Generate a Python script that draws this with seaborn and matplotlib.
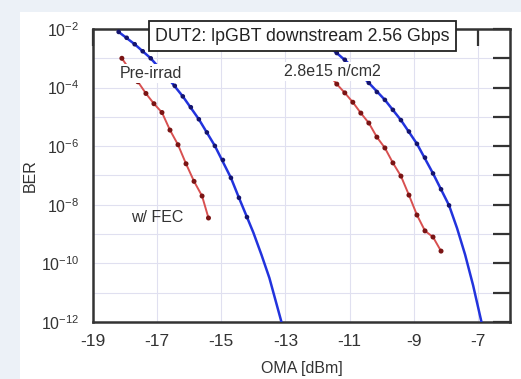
import numpy as np
import pandas as pd
import matplotlib
matplotlib.use("Agg")
import matplotlib.pyplot as plt
import seaborn as sns
from matplotlib.patches import Rectangle

# ---------------- data ----------------
# pre-irradiation, with FEC (red)
pre_fec_oma = [-18.1, -17.85, -17.6, -17.35, -17.1, -16.85, -16.6, -16.35,
               -16.1, -15.85, -15.6, -15.4]
pre_fec_log_ber = [-3.0, -3.4, -3.8, -4.2, -4.55, -4.85, -5.45, -5.95,
                   -6.6, -7.2, -7.7, -8.45]

# pre-irradiation, no FEC (blue dots)
pre_oma = [-18.2, -17.95, -17.7, -17.45, -17.2, -16.95, -16.7, -16.45, -16.2,
           -15.95, -15.7, -15.45, -15.2, -14.95, -14.7, -14.45, -14.2]
pre_log_ber = [-2.1, -2.3, -2.52, -2.76, -3.0, -3.3, -3.62, -3.94, -4.3,
               -4.67, -5.08, -5.53, -5.99, -6.47, -7.08, -7.76, -8.42]
# pre-irradiation fit (blue line)
pre_fit_oma = [-18.2, -17.7, -17.2, -16.7, -16.2, -15.7, -15.2, -14.7, -14.45,
               -14.2, -14.0, -13.75, -13.5, -13.25, -13.05]
pre_fit_log_ber = [-2.1, -2.52, -3.0, -3.62, -4.3, -5.08, -5.99, -7.08, -7.76,
                   -8.42, -8.95, -9.7, -10.5, -11.5, -12.3]

# after 2.8e15 n/cm2, with FEC (red)
irr_fec_oma = [-11.65, -11.4, -11.15, -10.9, -10.65, -10.4, -10.15, -9.9,
               -9.65, -9.4, -9.15, -8.9, -8.65, -8.4, -8.15]
irr_fec_log_ber = [-3.55, -3.88, -4.18, -4.5, -4.87, -5.21, -5.69, -6.06,
                   -6.57, -7.02, -7.67, -8.35, -8.89, -9.1, -9.58]

# after 2.8e15 n/cm2, no FEC (blue dots)
irr_oma = [-11.4, -11.15, -10.9, -10.65, -10.4, -10.15, -9.9, -9.65, -9.4,
           -9.15, -8.9, -8.65, -8.4, -8.15, -7.9]
irr_log_ber = [-2.82, -3.05, -3.3, -3.56, -3.84, -4.15, -4.42, -4.76, -5.11,
               -5.5, -5.92, -6.39, -6.93, -7.47, -8.02]
# irradiated fit (blue line)
irr_fit_oma = [-11.9, -11.4, -10.9, -10.4, -9.9, -9.4, -8.9, -8.4, -7.9,
               -7.65, -7.4, -7.15, -6.9, -6.8]
irr_fit_log_ber = [-2.4, -2.82, -3.3, -3.84, -4.42, -5.11, -5.92, -6.93,
                   -8.02, -8.8, -9.7, -10.75, -11.95, -12.4]

x_ticks = [-19, -17, -15, -13, -11, -9, -7]
y_exponents = [-2, -3, -4, -5, -6, -7, -8, -9, -10, -11, -12]
y_labeled = [-2, -4, -6, -8, -10, -12]

title_text = "DUT2: lpGBT downstream 2.56 Gbps"
label_pre = "Pre-irrad"
label_irr = "2.8e15 n/cm2"
label_fec = "w/ FEC"

# ---------------- style ----------------
sns.set_theme(style="white")
plt.rcParams["font.family"] = ["Liberation Sans", "DejaVu Sans"]
plt.rcParams["mathtext.fontset"] = "custom"
plt.rcParams["mathtext.rm"] = "Liberation Sans"
plt.rcParams["mathtext.it"] = "Liberation Sans"
plt.rcParams["axes.unicode_minus"] = False

BLUE_LINE = "#2233dd"
BLUE_DOT = "#14146e"
RED_LINE = "#d85050"
RED_DOT = "#7a1414"
SPINE = "#333333"
TEXT = "#333333"

fig = plt.figure(figsize=(5.21, 3.79), dpi=100, facecolor="#ecf1f7")
fig.patches.append(Rectangle((20 / 521, 0), 1, (379 - 12) / 379,
                             transform=fig.transFigure, facecolor="white",
                             edgecolor="none", zorder=-10))
ax = fig.add_axes([93 / 521, 1 - 322 / 379, (510 - 93) / 521, (322 - 29) / 379])
ax.set_facecolor("white")


def df(x, logy):
    return pd.DataFrame({"oma": x, "ber": np.power(10.0, np.array(logy))})


# fit lines (blue)
for xs, ls in [(pre_fit_oma, pre_fit_log_ber), (irr_fit_oma, irr_fit_log_ber)]:
    sns.lineplot(data=df(xs, ls), x="oma", y="ber", ax=ax, sort=False,
                 estimator=None, color=BLUE_LINE, lw=1.8, zorder=3)
# blue dots
for xs, ls in [(pre_oma, pre_log_ber), (irr_oma, irr_log_ber)]:
    sns.scatterplot(data=df(xs, ls), x="oma", y="ber", ax=ax, color=BLUE_DOT,
                    s=11, edgecolor="none", zorder=4)
# red FEC curves
for xs, ls in [(pre_fec_oma, pre_fec_log_ber), (irr_fec_oma, irr_fec_log_ber)]:
    d = df(xs, ls)
    sns.lineplot(data=d, x="oma", y="ber", ax=ax, sort=False, estimator=None,
                 color=RED_LINE, lw=1.4, zorder=3)
    sns.scatterplot(data=d, x="oma", y="ber", ax=ax, color=RED_DOT, s=13,
                    edgecolor="none", zorder=4)

ax.set_yscale("log")
ax.set_xlim(-19, -6)
ax.set_ylim(1e-12, 1e-2)

ax.set_xticks(x_ticks)
ax.set_xticklabels([str(v) for v in x_ticks])
ax.set_yticks([10.0 ** e for e in y_exponents])
ax.set_yticklabels([(r"$10^{%d}$" % e) if e in y_labeled else "" for e in y_exponents])
ax.yaxis.set_minor_locator(matplotlib.ticker.NullLocator())

ax.tick_params(axis="both", which="major", direction="in", length=12,
               width=1.6, color=SPINE, top=True, right=True,
               labelcolor=TEXT)
ax.tick_params(axis="x", labelsize=12.5, pad=9)
ax.tick_params(axis="y", labelsize=11.5, pad=10)
ax.grid(True, color="#e0e0f0", lw=0.8)
for s in ax.spines.values():
    s.set_color(SPINE)
    s.set_linewidth(1.8)

ax.set_xlabel("OMA [dBm]", fontsize=11.5, color=TEXT, labelpad=8)
ax.set_ylabel("BER", fontsize=11.5, color=TEXT, labelpad=2)

# annotations
bbox_white = dict(facecolor="white", edgecolor="none", pad=1.5)
ax.text(-18.18, 10 ** -3.52, label_pre, fontsize=11.5, color=TEXT,
        va="center", ha="left", bbox=bbox_white, zorder=5)
ax.text(-13.05, 10 ** -3.45, label_irr, fontsize=11.5, color=TEXT,
        va="center", ha="left", bbox=bbox_white, zorder=5)
ax.text(-17.8, 10 ** -8.42, label_fec, fontsize=11.5, color=TEXT,
        va="center", ha="left", zorder=5)
ax.text(0.502, 0.976, title_text, transform=ax.transAxes, fontsize=12.8,
        color="#222222", ha="center", va="center", zorder=10, clip_on=False,
        bbox=dict(facecolor="white", edgecolor="#222222", lw=1.3,
                  boxstyle="square,pad=0.35"))

fig.savefig("out.png", dpi=100, facecolor=fig.get_facecolor())
